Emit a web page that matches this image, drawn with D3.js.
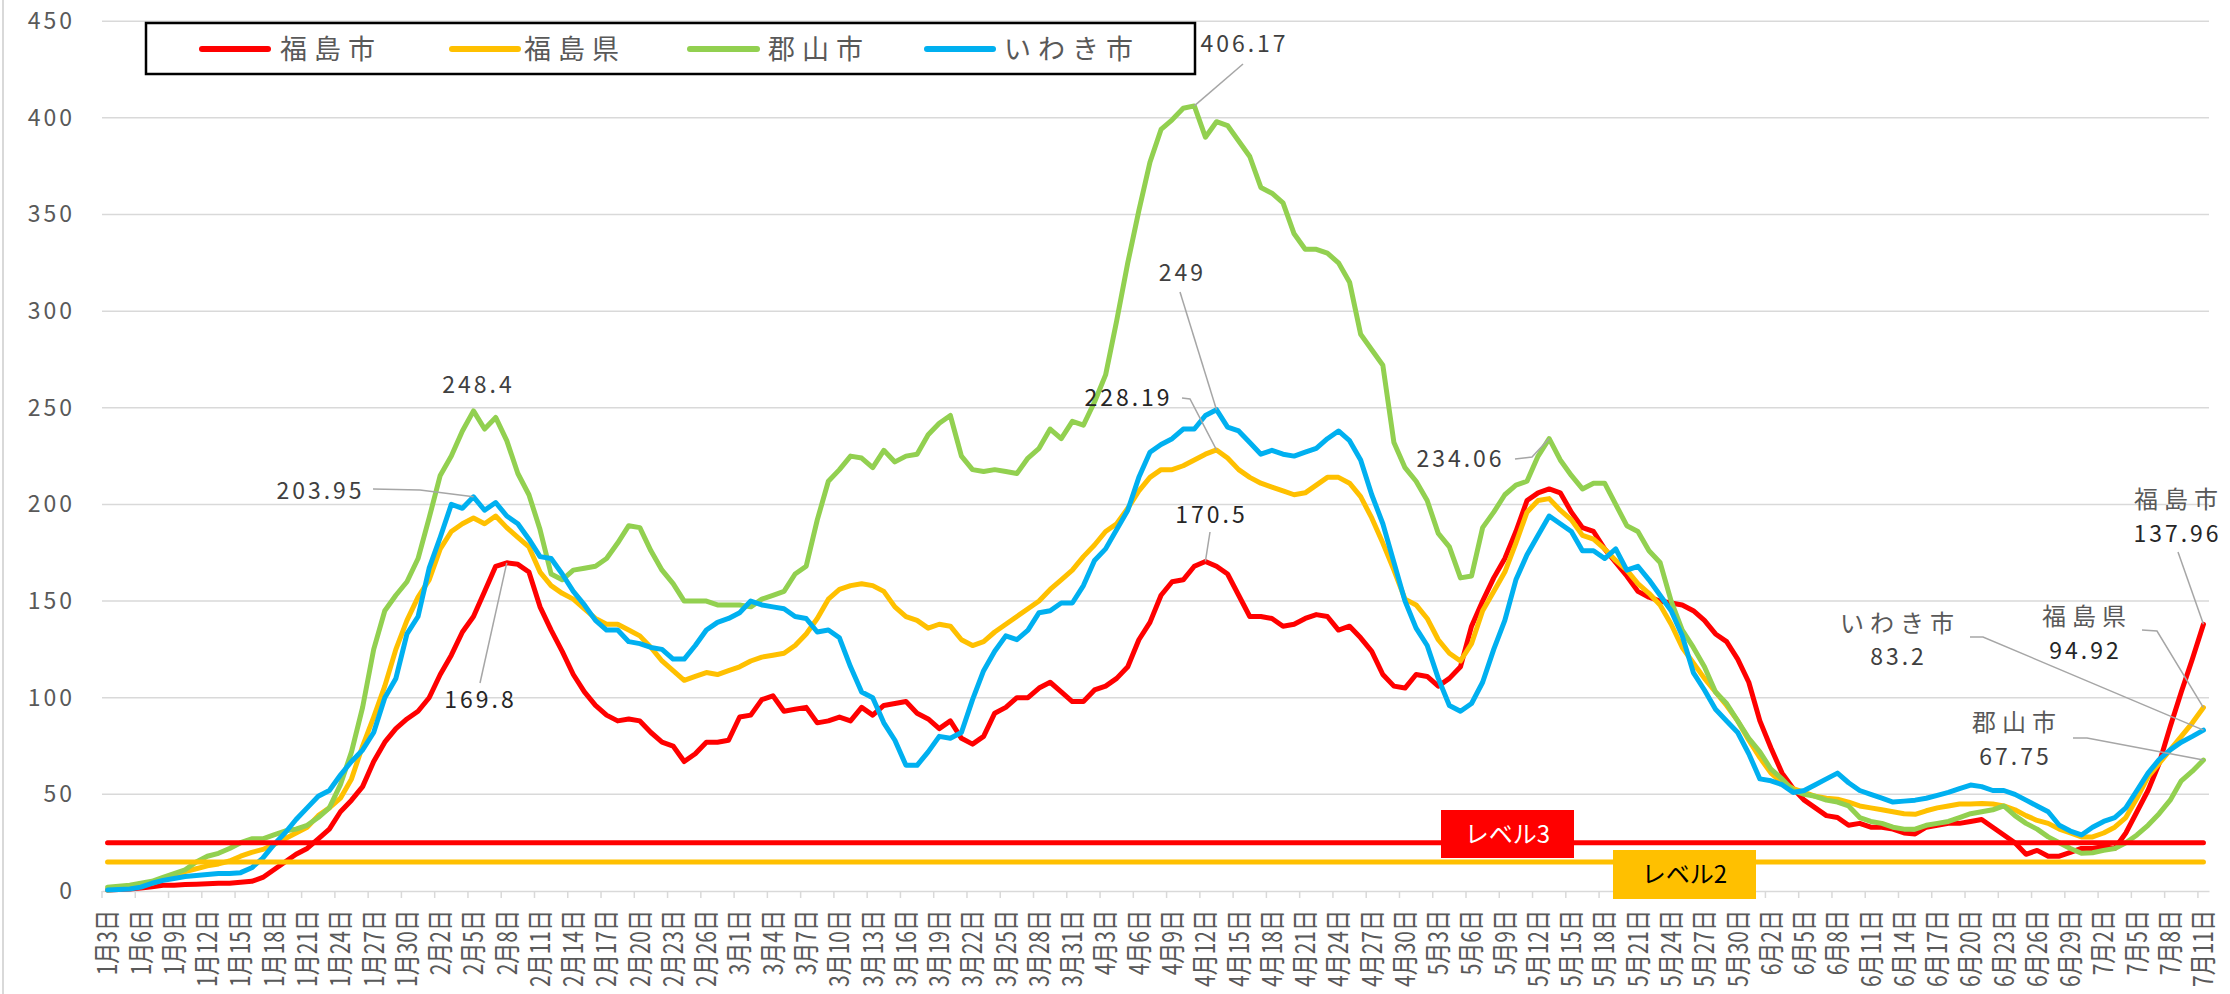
<!DOCTYPE html>
<html><head><meta charset="utf-8">
<script src="https://cdn.jsdelivr.net/npm/d3@7"></script>
<style>
body{margin:0;background:#fff;}
svg{display:block;font-family:"Noto Sans CJK JP","Noto Sans",sans-serif;}
</style></head><body>
<svg id="chart" width="2230" height="994"></svg>
<script>
const seriesNames = ["福島市","福島県","郡山市","いわき市"];
const seriesColors = ["#FF0000","#FFC000","#92D050","#00B0F0"];
const yTicks = [0,50,100,150,200,250,300,350,400,450];
const tickLabels = ["1月3日","1月6日","1月9日","1月12日","1月15日","1月18日","1月21日","1月24日","1月27日","1月30日",
"2月2日","2月5日","2月8日","2月11日","2月14日","2月17日","2月20日","2月23日","2月26日",
"3月1日","3月4日","3月7日","3月10日","3月13日","3月16日","3月19日","3月22日","3月25日","3月28日","3月31日",
"4月3日","4月6日","4月9日","4月12日","4月15日","4月18日","4月21日","4月24日","4月27日","4月30日",
"5月3日","5月6日","5月9日","5月12日","5月15日","5月18日","5月21日","5月24日","5月27日","5月30日",
"6月2日","6月5日","6月8日","6月11日","6月14日","6月17日","6月20日","6月23日","6月26日","6月29日",
"7月2日","7月5日","7月8日","7月11日"];

// 福島市
const fukushimaCity = [
0.5,0.8,1,1.5,2.2,3,3,3.3,3.5,3.7,
4,4,4.5,5,7,11,15,19,22,27,
32,41,47,54,67,77,84,89,93,100,
112,122,134,142,155,168,169.8,169,165,147,
135,124,112,103,96,91,88,89,88,82,
77,75,67,71,77,77,78,90,91,99,
101,93,94,95,87,88,90,88,95,91,
96,97,98,92,89,84,88,79,76,80,
92,95,100,100,105,108,103,98,98,104,
106,110,116,130,139,153,160,161,168,170.5,
168,164,153,142,142,141,137,138,141,143,
142,135,137,131,124,112,106,105,112,111,
106,110,116,137,150,162,172,186,202,206,
208,206,196,188,186,177,170,163,155,152,
150,149,148,145,140,133,129,120,108,88,
74,61,53,47,43,39,38,34,35,33,
33,32,30,29.5,33,34,35,35,36,37,
33,29,25,19,21,18,18,20,22,22,
23,22,30,41,52,66,85,103,120,137.96];
// 福島県
const fukushimaPref = [
0.5,1,2,3,4,6,8,10,11.5,13,
14,15.5,18,20,21.5,24,27,30,33,39,
43,48,58,75,90,106,125,140,152,161,
177,186,190,193,190,194,188,183,178,165,
158,154,151,146,141,138,138,135,132,126,
119,114,109,111,113,112,114,116,119,121,
122,123,127,133,141,151,156,158,159,158,
155,147,142,140,136,138,137,130,127,129,
134,138,142,146,150,156,161,166,173,179,
186,190,198,207,214,218,218,220,223,226,
228.19,224,218,214,211,209,207,205,206,210,
214,214,211,204,193,180,166,151,148,141,
130,123,119,128,145,155,165,180,196,202,
203,197,192,184,182,177,171,166,159,154,
148,138,126,118,110,103,96,88,78,69,
61,56,53,51,49,48,47.5,46,44,43,
42,41,40,39.7,41.5,43,44,45,45,45.3,
45,44,42,39,36.5,35,32,30,28,28,
30,33,38,48,59,66,73,80,87,94.92];
// 郡山市
const koriyama = [
2,2.5,3,4,5,7,9,11,15,18,
19.5,22,25,27,27,29,31,32,34,38,
43,55,72,95,125,145,153,160,172,193,
215,225,238,248.4,239,245,233,216,205,187,
164,161,166,167,168,172,180,189,188,176,
166,159,150,150,150,148,148,148,147,151,
153,155,164,168,192,212,218,225,224,219,
228,222,225,226,236,242,246,225,218,217,
218,217,216,224,229,239,234,243,241,253,
267,295,325,352,377,394,399,405,406.17,390,
398,396,388,380,364,361,356,340,332,332,
330,325,315,288,280,272,232,219,212,202,
185,178,162,163,188,196,205,210,212,225,
234.06,223,215,208,211,211,200,189,186,176,
170,150,135,126,116,103,97,88,79,72,
63,58,52,50,49,47,46,44,38,36,
35,33,32,32,34,35,36,38,40,41,
42,44,39,35,32,28,25,22,19.5,19.8,
21,22,25,29,34,40,47,57,62,67.75];
// いわき市
const iwaki = [
0.5,0.8,1,2,4,5.5,6.5,7.5,8,8.5,
9,9,9.5,12,17,24,30,37,43,49,
52,60,67,73,82,100,110,133,142,167,
183,200,198,203.95,197,201,194,190,182,173,
172,164,155,148,140,135,135,129,128,126,
125,120,120,127,135,139,141,144,150,148,
147,146,142,141,134,135,131,116,103,100,
87,78,65,65,72,80,79,82,99,114,
124,132,130,135,144,145,149,149,158,171,
177,187,197,214,227,231,234,239,239,246,
249,240,238,232,226,228,226,225,227,229,
234,238,233,223,205,190,170,150,136,127,
110,96,93,97,108,125,140,161,174,184,
194,190,186,176,176,172,177,166,168,161,
153,145,132,113,104,94,88,82,71,58,
57,55,51,52,55,58,61,56,52,50,
48,46,46.5,47,48,49.5,51,53,54.8,54,
52,52,50,47,44,41,34,31,29,33,
36,38,43,52,61,68,73,77,80,83.2];

const level3 = 25;   // レベル3
const level2 = 15;   // レベル2

// categories: every day from 1月3日 to 7月11日
const categories = [];
for (let i = 0; i < 190; i++) {
  const dt = new Date(2022, 0, 3 + i);
  categories.push(`${dt.getMonth()+1}月${dt.getDate()}日`);
}
const allSeries = [fukushimaCity, fukushimaPref, koriyama, iwaki];

const svg = d3.select("#chart");
svg.append("rect").attr("width",2230).attr("height",994).attr("fill","#fff");
svg.append("line").attr("x1",3).attr("x2",3).attr("y1",0).attr("y2",994).attr("stroke","#D9D9D9").attr("stroke-width",2);

const x = d3.scaleBand().domain(categories).range([102, 2209]).padding(0);
const bw = x.bandwidth();
const cx = c => x(c) + bw/2;
const y = d3.scaleLinear().domain([0,450]).range([891, 21.2]);

// gridlines
svg.append("g").selectAll("line").data(yTicks.filter(v=>v>0)).join("line")
  .attr("x1",102).attr("x2",2209).attr("y1",d=>y(d)).attr("y2",d=>y(d))
  .attr("stroke","#D9D9D9").attr("stroke-width",1.5);

// y axis
const yAx = svg.append("g").attr("transform","translate(102,0)")
  .call(d3.axisLeft(y).tickValues(yTicks).tickSize(0).tickPadding(27));
yAx.select(".domain").remove();
yAx.selectAll("text").attr("font-size",23).attr("fill","#595959")
  .attr("letter-spacing",3).attr("font-family",'"Noto Sans CJK JP",sans-serif');

// x axis
const xAx = svg.append("g").attr("transform","translate(0,891)")
  .call(d3.axisBottom(x).tickValues(tickLabels).tickSize(7).tickSizeOuter(0));
xAx.select(".domain").attr("stroke","#D9D9D9").attr("stroke-width",1.5);
xAx.selectAll(".tick line").attr("x1",-bw/2).attr("x2",-bw/2).attr("stroke","#D9D9D9").attr("stroke-width",1.5);
xAx.selectAll(".tick text").attr("transform","rotate(-90) scale(1,1.3)").attr("text-anchor","end")
  .attr("x",-19).attr("y",0).attr("dy","0.36em").attr("font-size",21).attr("fill","#595959")
  .attr("font-family",'"Noto Sans CJK JP",sans-serif');

// series
const line = d3.line().x((d,i)=>cx(categories[i])).y(d=>y(d));
allSeries.forEach((s,k)=>{
  svg.append("path").datum(s).attr("d",line).attr("fill","none")
    .attr("stroke",seriesColors[k]).attr("stroke-width",5)
    .attr("stroke-linejoin","round").attr("stroke-linecap","round");
});
// level lines
[[level3,"#FF0000"],[level2,"#FFC000"]].forEach(([lv,col])=>{
  svg.append("path").datum(categories.map(()=>lv)).attr("d",line).attr("fill","none")
    .attr("stroke",col).attr("stroke-width",5).attr("stroke-linecap","round");
});

// level boxes
const boxes = [
  {t:"レベル3", x0:1441, x1:1574, y0:810, y1:858, fill:"#FF0000", tc:"#FFFFFF"},
  {t:"レベル2", x0:1613, x1:1756, y0:850, y1:899, fill:"#FFC000", tc:"#000000"}
];
boxes.forEach(b=>{
  svg.append("rect").attr("x",b.x0).attr("y",b.y0).attr("width",b.x1-b.x0).attr("height",b.y1-b.y0).attr("fill",b.fill);
  svg.append("text").attr("x",(b.x0+b.x1)/2).attr("y",(b.y0+b.y1)/2).attr("dy","0.36em")
    .attr("text-anchor","middle").attr("font-size",24).attr("fill",b.tc).text(b.t);
});

// legend
const lg = svg.append("g");
lg.append("rect").attr("x",146).attr("y",23).attr("width",1049).attr("height",51)
  .attr("fill","#fff").attr("stroke","#000").attr("stroke-width",2.5);
const legPos = [[202,268,280],[452,518,524],[690,757,768],[927,993,1004]];
seriesNames.forEach((n,k)=>{
  const [a,b,t] = legPos[k];
  lg.append("line").attr("x1",a).attr("x2",b).attr("y1",49).attr("y2",49)
    .attr("stroke",seriesColors[k]).attr("stroke-width",6).attr("stroke-linecap","round");
  lg.append("text").attr("x",t).attr("y",49).attr("dy","0.36em").attr("font-size",27)
    .attr("letter-spacing",7).attr("fill","#595959").text(n);
});

// data labels with leader lines
const pt = (s,i) => [cx(categories[i]), y(allSeries[s][i])];
const ann = [
  {s:2,i:33,lines:["248.4"],x:477,y:[385],lead:null,c:"#404040"},
  {s:3,i:33,lines:["203.95"],x:319,y:[491],lead:[[373,489],[420,490]],c:"#404040"},
  {s:0,i:36,lines:["169.8"],x:479,y:[700],lead:[[480,683]],c:"#262626"},
  {s:2,i:98,lines:["406.17"],x:1243,y:[44],lead:[[1243,64]],c:"#404040"},
  {s:3,i:100,lines:["249"],x:1181,y:[273],lead:[[1180,292]],c:"#404040"},
  {s:1,i:100,lines:["228.19"],x:1127,y:[398],lead:[[1182,398],[1190,399]],c:"#262626"},
  {s:0,i:99,lines:["170.5"],x:1210,y:[515],lead:[[1210,532]],c:"#262626"},
  {s:2,i:130,lines:["234.06"],x:1459,y:[459],lead:[[1515,459],[1532,457]],c:"#404040"},
  {s:0,i:189,lines:["福島市","137.96"],x:2176,y:[499,534],lead:[[2178,552]],c:"#262626"},
  {s:1,i:189,lines:["福島県","94.92"],x:2084,y:[616,651],lead:[[2142,630],[2157,631]],c:"#262626"},
  {s:3,i:189,lines:["いわき市","83.2"],x:1897,y:[623,657],lead:[[1970,637],[1983,637]],c:"#404040"},
  {s:2,i:189,lines:["郡山市","67.75"],x:2014,y:[722,757],lead:[[2073,738],[2087,738]],c:"#404040"}
];
ann.forEach(a=>{
  if (a.lead) {
    const p = a.lead.concat([pt(a.s,a.i)]);
    svg.append("path").attr("d",d3.line()(p)).attr("fill","none").attr("stroke","#A6A6A6").attr("stroke-width",1.5);
  }
  a.lines.forEach((t,j)=>{
    const cjk = /[^\d.]/.test(t);
    svg.append("text").attr("x",a.x + (cjk?3:1.5)).attr("y",a.y[j]).attr("dy","0.36em")
      .attr("text-anchor","middle").attr("font-size",cjk?24:23).attr("letter-spacing",cjk?6:3)
      .attr("fill",cjk?"#595959":a.c).text(t);
  });
});
</script>
</body></html>
